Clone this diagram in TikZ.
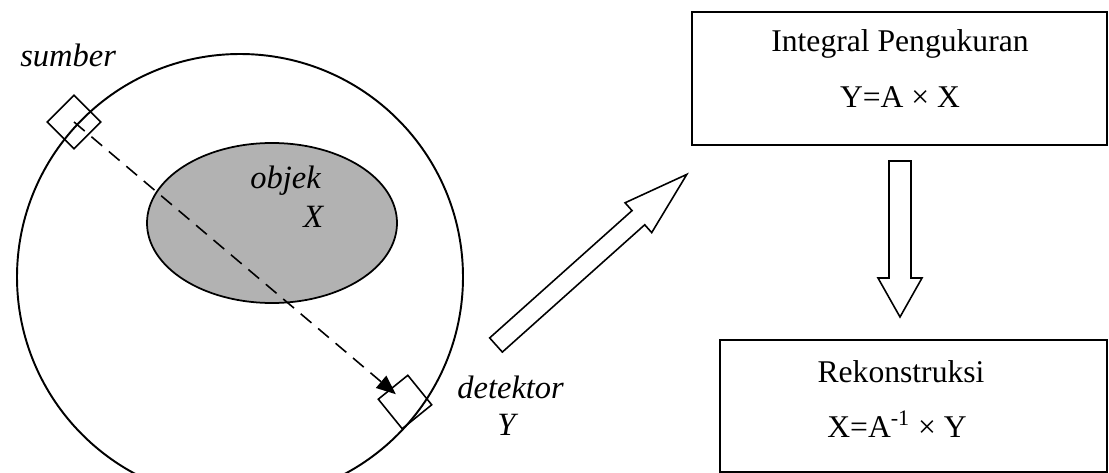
\documentclass[tikz,border=0pt]{standalone}
\usepackage{fontspec}
\setmainfont{Liberation Serif}
\usepackage{tikz}
\usetikzlibrary{arrows.meta, positioning, shapes.geometric, calc}
\definecolor{objekcolor}{RGB}{178, 178, 178}

\tikzset{
    lbl/.style={inner sep=0pt, font=\fontsize{18.5}{22}\selectfont\itshape},
    txt/.style={inner sep=0pt, font=\fontsize{18}{22}\selectfont},
    prosesbox/.style={draw, line width=1.6pt, inner sep=0pt},
    sensor/.style={draw, line width=0.9pt, minimum size=0.76cm, inner sep=0pt},
    hollowarrow/.style={draw, line width=0.9pt, fill=white, line join=miter}
}

\begin{document}
\begin{tikzpicture}[x=0.02cm, y=-0.02cm]
\useasboundingbox (0,0) rectangle (1109,473);
\clip (0,0) rectangle (1109,473);

\draw[line width=1.1pt] (240,277) circle[radius=223];
\draw[line width=1pt, fill=objekcolor] (272,223) ellipse[x radius=125, y radius=80];

\node (src) [sensor, rotate=45] at (74,122) {};
\node (det) [sensor, rotate=39] at (405,402) {};
\draw[line width=0.9pt, dash pattern=on 8pt off 5pt, -{Triangle[length=11pt, width=9pt]}, shorten >=0.24cm] (src.center) -- (det.center);

\node (lsumber) [lbl, anchor=base west] at (20,67) {sumber};
\node (lobjek) [lbl, anchor=base west] at (250,188) {objek};
\node (lx) [lbl, anchor=base west] at (303,227) {X};
\node (ldet) [lbl, anchor=base west] at (457,398) {detektor};
\node (ly) [lbl, anchor=base west] at (497,435) {Y};

\node (ukur) [prosesbox, minimum width=8.3cm, minimum height=2.66cm] at (899.5,78.5) {};
\node (ukur1) [txt, anchor=base] at (900,52) {Integral Pengukuran};
\node (ukur2) [txt, anchor=base] at (900,108) {Y=A × X};

\node (rekon) [prosesbox, minimum width=7.74cm, minimum height=2.64cm] at (913.5,406) {};
\node (rekon1) [txt, anchor=base] at (901,382) {Rekonstruksi};
\node (rekon2) [txt, anchor=base] at (897,437) {X=A\textsuperscript{-1} × Y};

% panah kosong
\begin{scope}[shift={(496,345)}, rotate=41.8]
\draw[hollowarrow] (0,-9.5) -- (191,-9.5) -- (191,-20) -- (256,0) -- (191,20) -- (191,9.5) -- (0,9.5) -- cycle;
\end{scope}
\draw[hollowarrow] (889,161) -- (911,161) -- (911,278) -- (922,278) -- (900,317) -- (878,278) -- (889,278) -- cycle;
\end{tikzpicture}
\end{document}
